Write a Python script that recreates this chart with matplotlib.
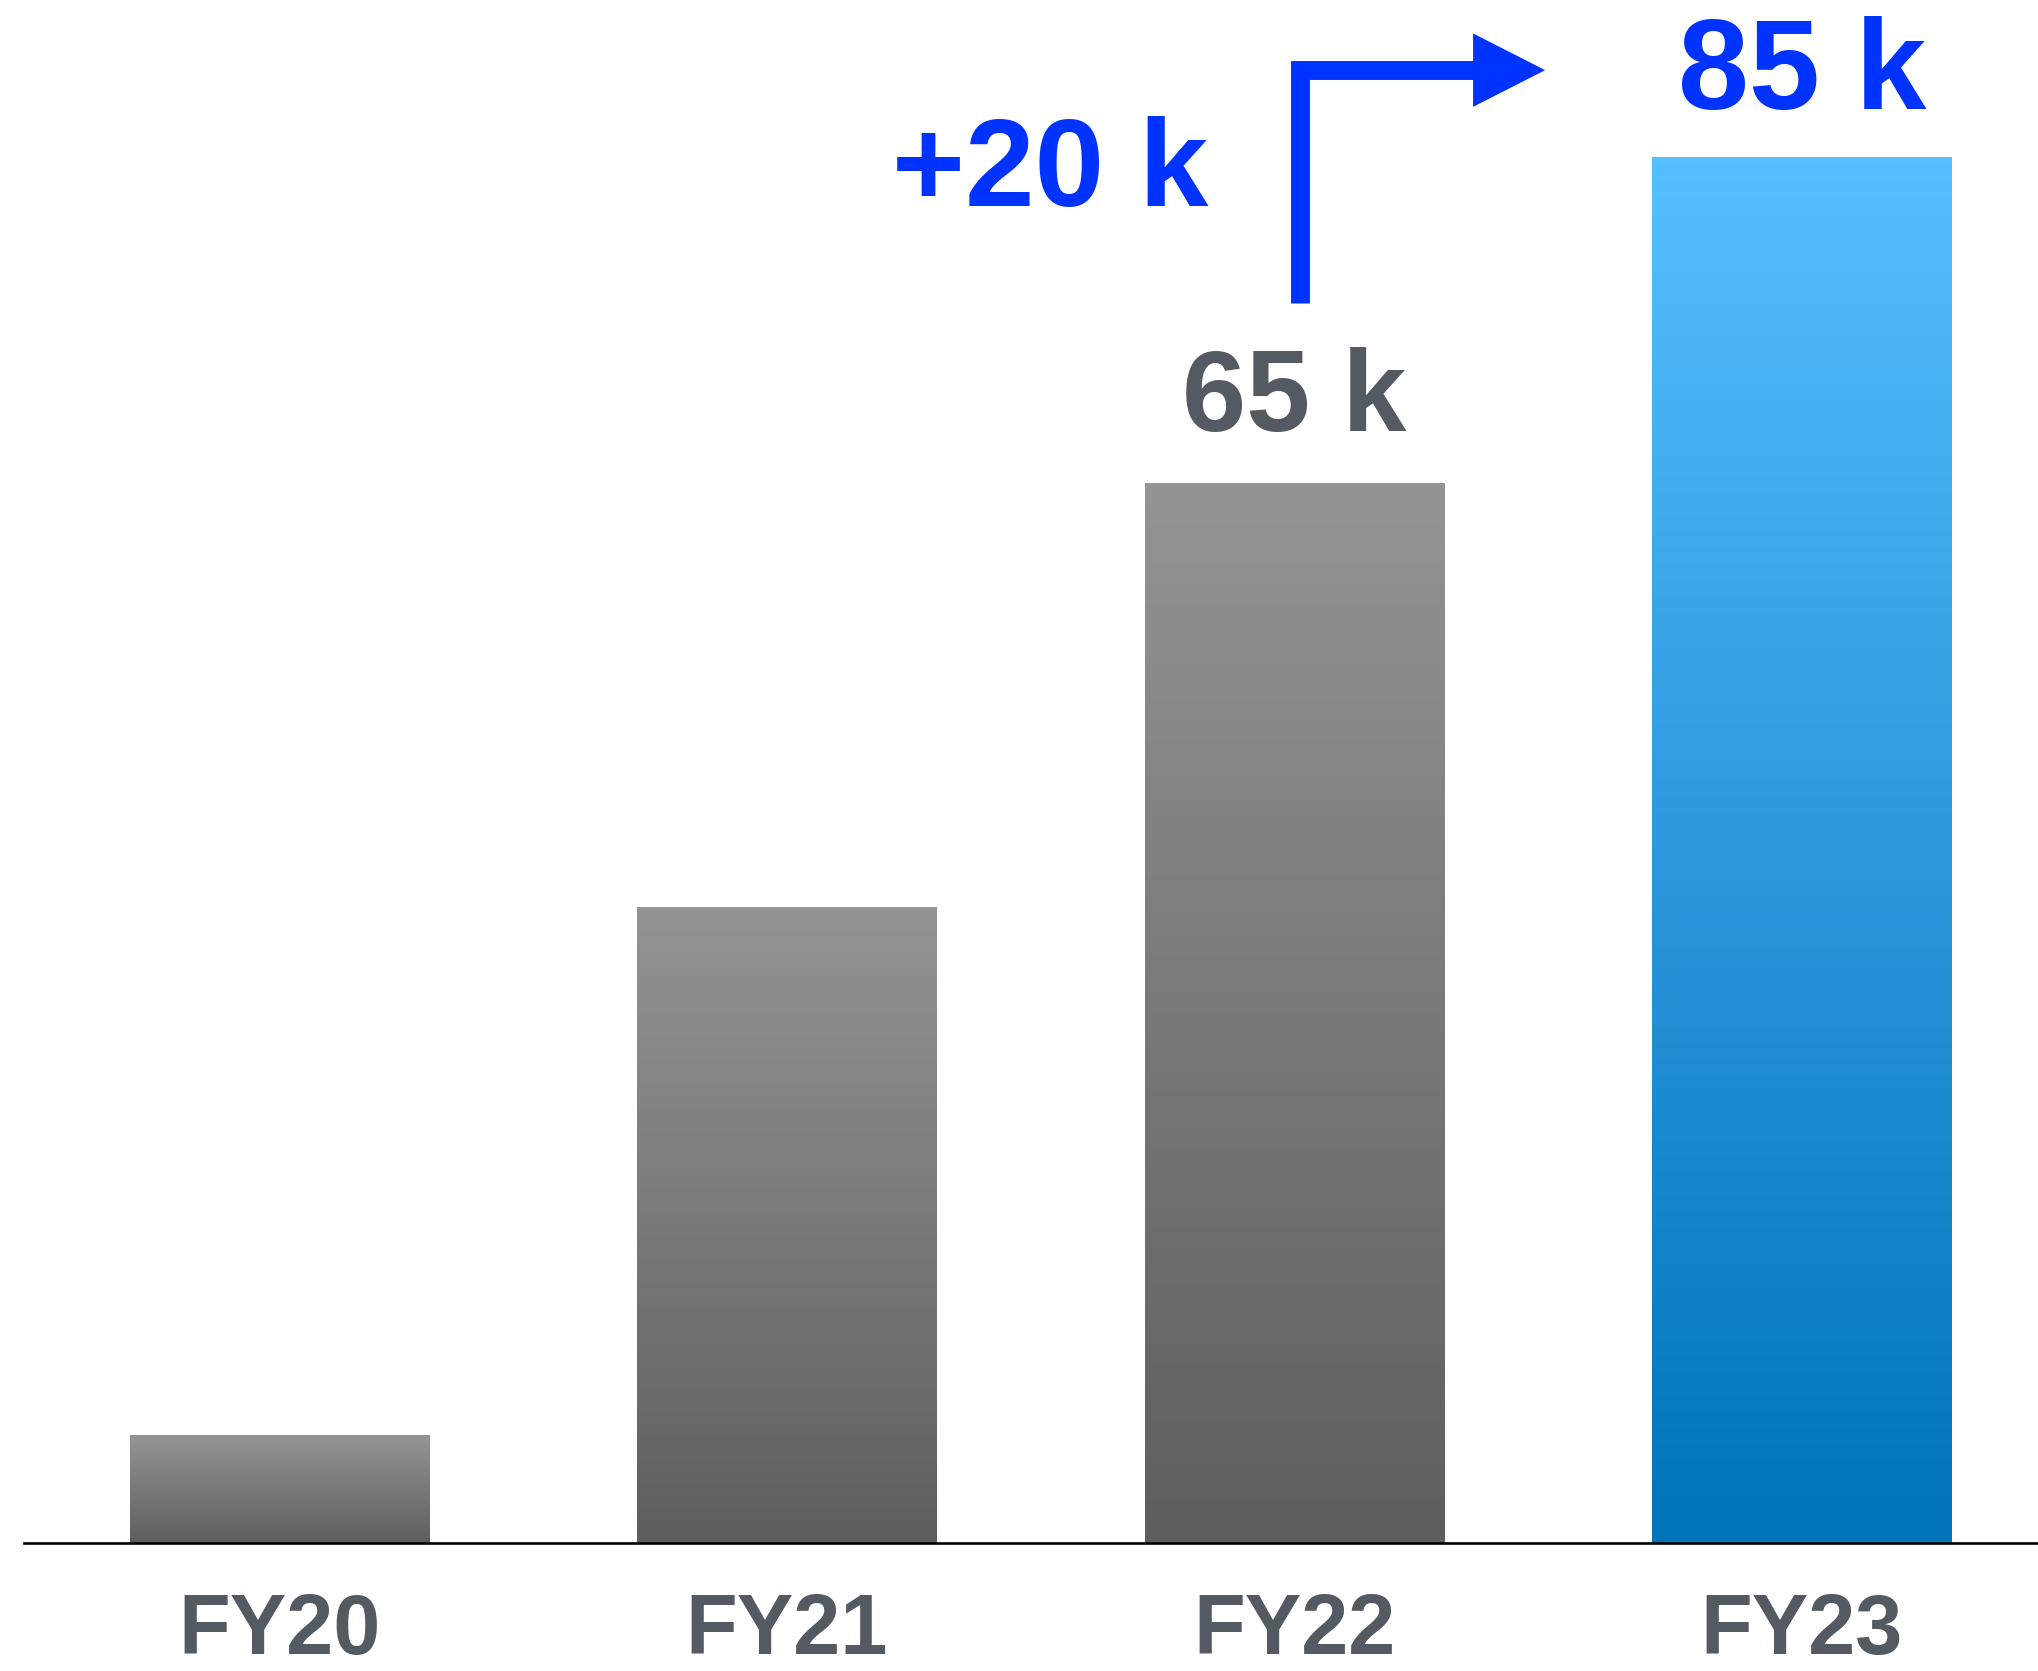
import numpy as np
import matplotlib
matplotlib.use("Agg")
import matplotlib.pyplot as plt
import matplotlib.font_manager as fm
from matplotlib.colors import LinearSegmentedColormap
from matplotlib.patches import Polygon

# Data (thousands)
categories = ["FY20", "FY21", "FY22", "FY23"]
values = [6.6, 39, 65, 85]
value_labels = [None, None, "65 k", "85 k"]
delta_label = "+20 k"

# Styles
GRAY_TOP, GRAY_BOTTOM = "#949494", "#5E5E5E"
BLUE_TOP, BLUE_BOTTOM = "#56BFFF", "#0073B9"
TEXT_GRAY = "#545A61"
ACCENT = "#0033FF"
highlight = [False, False, False, True]

available = {f.name for f in fm.fontManager.ttflist}
family = next((n for n in ["Liberation Sans", "Arimo", "Arial"] if n in available), "Roboto")
plt.rcParams["font.family"] = [family, "DejaVu Sans"]
plt.rcParams["font.weight"] = "bold"

fig = plt.figure(figsize=(20.38, 16.71), dpi=100)
ax = fig.add_axes([24 / 2038, 128 / 1671, 1 - 24 / 2038, 1543 / 1671])

x = np.arange(len(categories))
bars = ax.bar(x, values, width=0.59, color="none", edgecolor="none", zorder=2)

ax.set_xlim(-0.503, 3.465)
ax.set_ylim(0, 94.6)

# Vertical gradient fill for each bar
grad = np.linspace(0, 1, 256).reshape(-1, 1)
for bar, hi in zip(bars, highlight):
    top, bottom = (BLUE_TOP, BLUE_BOTTOM) if hi else (GRAY_TOP, GRAY_BOTTOM)
    cmap = LinearSegmentedColormap.from_list("g", [bottom, top])
    x0, y0 = bar.get_x(), bar.get_y()
    w, h = bar.get_width(), bar.get_height()
    im = ax.imshow(grad, cmap=cmap, aspect="auto", origin="lower",
                   extent=(x0, x0 + w, y0, y0 + h), zorder=2,
                   interpolation="bilinear")
    im.set_clip_path(bar)

# Value labels above the last two bars
for bar, lab, hi in zip(bars, value_labels, highlight):
    if lab is None:
        continue
    ax.annotate(lab, (bar.get_x() + bar.get_width() / 2, bar.get_height()),
                xytext=(0, 34 if hi else 37), textcoords="offset points",
                ha="center", va="baseline", fontsize=92 if hi else 83,
                fontweight="bold", color=ACCENT if hi else TEXT_GRAY)

# Growth arrow from FY22 to FY23
ax.plot([2.011, 2.011, 2.355], [76.0, 90.3, 90.3], color=ACCENT, lw=13.6,
        solid_joinstyle="miter", solid_capstyle="butt", zorder=3)
ax.add_patch(Polygon([[2.352, 92.55], [2.494, 90.3], [2.352, 88.05]],
                     closed=True, facecolor=ACCENT, edgecolor="none", zorder=3))
ax.text(1.518, 82.0, delta_label, ha="center", va="baseline", fontsize=90,
        fontweight="bold", color=ACCENT)

# Axes styling
for side in ["top", "right", "left"]:
    ax.spines[side].set_visible(False)
ax.spines["bottom"].set_linewidth(1.9)
ax.spines["bottom"].set_color("black")
ax.spines["bottom"].set_zorder(4)
ax.set_yticks([])
ax.set_xticks(x)
ax.set_xticklabels(categories, fontsize=61, fontweight="bold", color=TEXT_GRAY)
ax.tick_params(axis="x", length=0, pad=35)

fig.savefig("out.png", dpi=100, facecolor="white")
